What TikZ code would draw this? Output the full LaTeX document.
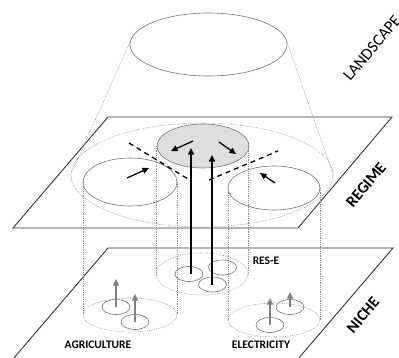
\documentclass[tikz,border=0pt]{standalone}
\usepackage{fontspec}
\setmainfont{Carlito}
\usetikzlibrary{arrows.meta}
\begin{document}
\begin{tikzpicture}[x=1pt,y=-1pt,
  plane/.style={draw=black!80,line width=0.9pt},
  solidell/.style={draw=black!55,line width=0.6pt},
  dotline/.style={draw=black!45,line width=0.6pt,dash pattern=on 0.7pt off 1.1pt},
  bigarrow/.style={draw=black,line width=1.3pt,-{Triangle[length=6.5pt,width=6pt]}},
  grayarrow/.style={draw=black!50,line width=1.3pt,-{Triangle[length=6.5pt,width=6pt]}},
  dashline/.style={draw=black,line width=1.3pt,dash pattern=on 5pt off 4pt},
  biglabel/.style={font=\fontsize{16.5}{18}\selectfont,rotate=50,inner sep=0pt},
  smalllabel/.style={font=\bfseries\fontsize{11.5}{13}\selectfont,inner sep=0pt}]
\useasboundingbox (0,0) rectangle (399,357);

% coordinates
\coordinate (land) at (208.5,44.5);
\coordinate (reg) at (202,175);
\coordinate (gr) at (203,146);
\coordinate (le) at (130,182);
\coordinate (ri) at (274,188);
\coordinate (rese) at (202,274);
\coordinate (agri) at (130,315);
\coordinate (elec) at (274,320);
\coordinate (r1) at (189,274);
\coordinate (r2) at (222.5,267.5);
\coordinate (r3) at (212.5,284.5);
\coordinate (a1) at (116,307);
\coordinate (a2) at (135,322);
\coordinate (e1) at (290,307);
\coordinate (e2) at (270,325);

% planes
\draw[plane] (108,117) -- (392,117) -- (298,228) -- (13,228) -- cycle;
\draw[plane] (13,359) -- (108,248) -- (393,248) -- (298,359);

% landscape
\draw[solidell] (land) ellipse [x radius=78.5pt, y radius=31.5pt];
\draw[dotline] (130,42) -- (72,172);
\draw[dotline] (287,42) -- (333,174);
\draw[dotline] (reg) ellipse [x radius=131pt, y radius=52pt];

% regime ellipses
\draw[solidell,fill=black!13] (gr) ellipse [x radius=46pt, y radius=22pt];
\draw[solidell] (le) ellipse [x radius=47pt, y radius=24pt];
\draw[solidell] (ri) ellipse [x radius=46pt, y radius=22pt];

% vertical cylinder lines
\draw[dotline] (83,182) -- (83,315);
\draw[dotline] (177,182) -- (177,315);
\draw[dotline] (156,146) -- (156,274);
\draw[dotline] (248,146) -- (248,274);
\draw[dotline] (228,188) -- (228,320);
\draw[dotline] (320,188) -- (320,320);

% niche dotted ellipses
\draw[dotline] (rese) ellipse [x radius=46pt, y radius=21pt];
\draw[dotline] (agri) ellipse [x radius=47pt, y radius=17pt];
\draw[dotline] (elec) ellipse [x radius=46pt, y radius=17pt];

% small niche ellipses
\foreach \c in {r1,r2,r3,a1,a2,e1,e2}
  \draw[solidell] (\c) ellipse [x radius=14pt, y radius=7.5pt];

% dashed separators
\draw[dashline] (129,143) -- (188,179);
\draw[dashline] (209,180) -- (278,151);

% regime arrows
\draw[bigarrow] (193,141) -- (171,151);
\draw[bigarrow] (219,142) -- (236,154);
\draw[bigarrow] (127,178) -- (149,168);
\draw[bigarrow] (275,183) -- (260,173);

% niche to regime arrows
\coordinate (t1) at (191,148);
\coordinate (t2) at (212,155);
\draw[bigarrow] (191,274) -- (t1);
\draw[bigarrow] (212,284.5) -- (t2);

% gray niche arrows
\coordinate (ta1) at (116,279);
\coordinate (ta2) at (135,294);
\coordinate (te1) at (290,292);
\coordinate (te2) at (270,298);
\draw[grayarrow] (a1) -- (ta1);
\draw[grayarrow] (a2) -- (ta2);
\draw[grayarrow] (e1) -- (te1);
\draw[grayarrow] (e2) -- (te2);

% labels
\node[biglabel] (lland) at (372,48) {LANDSCAPE};
\node[biglabel,font=\bfseries\fontsize{16}{18}\selectfont] (lreg) at (366,185) {REGIME};
\node[biglabel,font=\bfseries\fontsize{16}{18}\selectfont] (lniche) at (363,315) {NICHE};
\node[smalllabel] (lrese) at (266,261) {RES-E};
\node[smalllabel] (lagri) at (98,345) {AGRICULTURE};
\node[smalllabel] (lelec) at (261,345) {ELECTRICITY};
\end{tikzpicture}
\end{document}
